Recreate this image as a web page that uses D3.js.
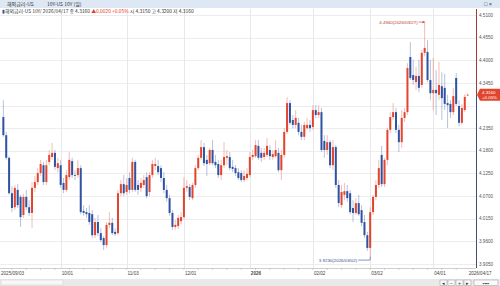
<!DOCTYPE html>
<html>
<head>
<meta charset="utf-8">
<script src="https://cdn.jsdelivr.net/npm/d3@7"></script>
<style>
  body { margin: 0; background: #fff; }
  svg { display: block; }
  text { font-family: "Liberation Sans", "Noto Sans CJK KR", sans-serif; }
</style>
</head>
<body>
<svg id="chart"></svg>
<script>
/* DATA (US 10Y daily candles, 2025/09/03 - 2026/04/17) */
const firstDay = "2025-09-03", lastDay = "2026-04-17";

const open = [
  4.262, 4.218, 4.163, 4.077, 4.043, 4.085, 4.068, 4.024, 4.068, 4.043,
  4.029, 4.090, 4.104, 4.126, 4.145, 4.104, 4.153, 4.165, 4.175, 4.138,
  4.145, 4.102, 4.085, 4.116, 4.155, 4.121, 4.121, 4.138, 4.034, 4.031,
  4.029, 4.026, 3.975, 4.007, 3.980, 3.968, 3.951, 4.000, 4.005, 3.983,
  3.980, 4.077, 4.099, 4.080, 4.114, 4.085, 4.153, 4.097, 4.090, 4.097,
  4.116, 4.080, 4.121, 4.143, 4.143, 4.138, 4.114, 4.085, 4.065, 4.029,
  3.995, 3.997, 4.009, 4.019, 4.090, 4.092, 4.065, 4.097, 4.138, 4.163,
  4.189, 4.158, 4.150, 4.182, 4.153, 4.148, 4.121, 4.145, 4.163, 4.165,
  4.141, 4.138, 4.128, 4.126, 4.109, 4.114, 4.121, 4.165, 4.167, 4.192,
  4.175, 4.165, 4.170, 4.182, 4.165, 4.167, 4.175, 4.133, 4.170, 4.226,
  4.296, 4.255, 4.243, 4.248, 4.226, 4.214, 4.235, 4.243, 4.238, 4.279,
  4.267, 4.274, 4.204, 4.182, 4.201, 4.145, 4.189, 4.097, 4.048, 4.073,
  4.082, 4.077, 4.041, 4.029, 4.053, 4.036, 4.007, 3.975, 3.944, 4.031,
  4.068, 4.097, 4.170, 4.099, 4.158, 4.231, 4.262, 4.274, 4.231, 4.201,
  4.260, 4.274, 4.408, 4.364, 4.347, 4.362, 4.340, 4.418, 4.420, 4.352,
  4.320, 4.328, 4.316, 4.337, 4.333, 4.296, 4.294, 4.274, 4.357, 4.289,
  4.248, 4.279, 4.315
];
const high = [
  4.303, 4.226, 4.167, 4.094, 4.097, 4.099, 4.073, 4.075, 4.085, 4.060,
  4.104, 4.119, 4.138, 4.158, 4.153, 4.158, 4.182, 4.199, 4.182, 4.163,
  4.158, 4.114, 4.133, 4.177, 4.163, 4.133, 4.158, 4.145, 4.048, 4.041,
  4.048, 4.036, 4.017, 4.024, 3.992, 3.973, 4.007, 4.031, 4.017, 3.992,
  4.085, 4.109, 4.121, 4.114, 4.128, 4.163, 4.158, 4.109, 4.114, 4.121,
  4.128, 4.128, 4.158, 4.163, 4.158, 4.145, 4.128, 4.097, 4.073, 4.036,
  4.012, 4.024, 4.031, 4.116, 4.109, 4.099, 4.102, 4.145, 4.170, 4.206,
  4.199, 4.170, 4.187, 4.206, 4.170, 4.158, 4.158, 4.201, 4.182, 4.177,
  4.158, 4.145, 4.138, 4.133, 4.133, 4.138, 4.177, 4.182, 4.206, 4.206,
  4.187, 4.187, 4.211, 4.194, 4.182, 4.206, 4.187, 4.182, 4.235, 4.311,
  4.303, 4.267, 4.279, 4.260, 4.243, 4.250, 4.260, 4.255, 4.291, 4.291,
  4.291, 4.284, 4.218, 4.218, 4.206, 4.206, 4.194, 4.109, 4.097, 4.102,
  4.097, 4.085, 4.060, 4.065, 4.073, 4.048, 4.024, 3.983, 4.043, 4.073,
  4.109, 4.158, 4.192, 4.163, 4.235, 4.274, 4.296, 4.284, 4.243, 4.279,
  4.284, 4.393, 4.444, 4.401, 4.384, 4.401, 4.425, 4.494, 4.449, 4.401,
  4.406, 4.376, 4.396, 4.371, 4.367, 4.316, 4.303, 4.333, 4.369, 4.303,
  4.294, 4.318, 4.320
];
const low = [
  4.214, 4.158, 4.073, 4.031, 4.036, 4.041, 3.995, 4.017, 4.036, 4.022,
  3.992, 4.080, 4.097, 4.119, 4.097, 4.097, 4.145, 4.158, 4.133, 4.128,
  4.090, 4.077, 4.080, 4.109, 4.114, 4.109, 4.114, 4.026, 4.022, 4.017,
  4.000, 3.968, 3.968, 3.973, 3.958, 3.939, 3.944, 3.992, 3.975, 3.973,
  3.975, 4.070, 4.070, 4.073, 4.077, 4.080, 4.080, 4.073, 4.080, 4.090,
  4.065, 4.070, 4.114, 4.133, 4.121, 4.104, 4.077, 4.056, 4.022, 3.988,
  3.988, 3.990, 4.002, 4.014, 4.080, 4.060, 4.060, 4.090, 4.133, 4.158,
  4.143, 4.119, 4.145, 4.145, 4.138, 4.114, 4.109, 4.138, 4.145, 4.133,
  4.128, 4.119, 4.109, 4.104, 4.104, 4.109, 4.116, 4.158, 4.163, 4.158,
  4.153, 4.158, 4.165, 4.158, 4.158, 4.163, 4.128, 4.109, 4.163, 4.221,
  4.243, 4.235, 4.235, 4.218, 4.206, 4.206, 4.231, 4.226, 4.231, 4.260,
  4.260, 4.177, 4.163, 4.170, 4.138, 4.133, 4.090, 4.043, 4.041, 4.060,
  4.056, 4.026, 4.007, 4.024, 4.022, 3.997, 3.968, 3.937, 3.923, 4.024,
  4.060, 4.090, 4.092, 4.092, 4.145, 4.223, 4.255, 4.223, 4.177, 4.187,
  4.250, 4.267, 4.352, 4.340, 4.328, 4.323, 4.333, 4.410, 4.347, 4.303,
  4.279, 4.267, 4.303, 4.255, 4.279, 4.235, 4.260, 4.267, 4.289, 4.240,
  4.243, 4.274, 4.315
];
const close = [
  4.218, 4.163, 4.077, 4.041, 4.090, 4.048, 4.019, 4.068, 4.043, 4.029,
  4.090, 4.104, 4.126, 4.148, 4.104, 4.145, 4.170, 4.175, 4.141, 4.150,
  4.097, 4.085, 4.121, 4.158, 4.121, 4.119, 4.138, 4.031, 4.029, 4.026,
  4.007, 3.975, 4.007, 3.980, 3.963, 3.951, 4.000, 4.005, 3.980, 3.978,
  4.077, 4.099, 4.077, 4.097, 4.085, 4.153, 4.085, 4.085, 4.102, 4.109,
  4.070, 4.121, 4.148, 4.148, 4.128, 4.114, 4.085, 4.065, 4.029, 3.995,
  4.000, 4.017, 4.019, 4.090, 4.094, 4.068, 4.097, 4.138, 4.163, 4.189,
  4.150, 4.148, 4.182, 4.150, 4.145, 4.121, 4.145, 4.165, 4.167, 4.138,
  4.136, 4.126, 4.114, 4.109, 4.119, 4.124, 4.165, 4.170, 4.194, 4.163,
  4.163, 4.175, 4.192, 4.167, 4.172, 4.182, 4.133, 4.170, 4.226, 4.296,
  4.248, 4.243, 4.260, 4.226, 4.214, 4.243, 4.243, 4.235, 4.279, 4.267,
  4.274, 4.182, 4.182, 4.201, 4.145, 4.189, 4.097, 4.053, 4.080, 4.082,
  4.065, 4.031, 4.029, 4.053, 4.026, 4.005, 3.975, 3.944, 4.031, 4.068,
  4.097, 4.138, 4.099, 4.158, 4.231, 4.262, 4.274, 4.231, 4.201, 4.260,
  4.274, 4.381, 4.357, 4.352, 4.362, 4.333, 4.418, 4.430, 4.352, 4.320,
  4.328, 4.320, 4.340, 4.308, 4.294, 4.291, 4.274, 4.313, 4.294, 4.248,
  4.284, 4.311, 4.316
];

const yTicks = [3.905, 3.96, 4.015, 4.07, 4.125, 4.18, 4.235, 4.29, 4.345, 4.4, 4.455, 4.51];
const xTickDates = ["2025-09-03", "2025-10-01", "2025-11-03", "2025-12-01", "2026-01-01",
                    "2026-02-02", "2026-03-02", "2026-04-01", "2026-04-17"];
const xTickLabels = ["2025/09/03", "10/01", "11/03", "12/01", "2026", "02/02", "03/02", "04/01", "2026/04/17"];

const titleText = "해외금리-US";
const subTitle = "10Y-US 10Y (일)";
const lastInfo = { date: "2026/04/17", close: "4.3160", change: "▲0.0020", pct: "+0.05%",
                   open: "4.3150", high: "4.3200", low: "4.3160" };

/* CONSTANTS */
const width = 500, height = 286;
const plot = { left: 0, right: 476, top: 9, bottom: 268 };
const upColor = "#e2452d", downColor = "#2f53a3";

// trading days (weekdays)
const fmt = d3.timeFormat("%Y-%m-%d");
const dates = d3.timeDay.range(new Date(firstDay + "T00:00"), new Date(lastDay + "T24:00"))
  .filter(d => d.getDay() !== 0 && d.getDay() !== 6)
  .map(fmt);

const candles = dates.map((d, i) => ({
  date: d, o: open[i], h: high[i], l: low[i], c: close[i]
}));

const svg = d3.select("#chart")
  .attr("width", width)
  .attr("height", height);

const x = d3.scaleBand()
  .domain(dates)
  .range([1.5, 469.5])
  .padding(0.3);

const y = d3.scaleLinear()
  .domain([3.905, 4.51])
  .range([264, 15]);

const cx = d => x(d) + x.bandwidth() / 2;

// horizontal grid
svg.append("g")
  .selectAll("line")
  .data(yTicks)
  .join("line")
    .attr("x1", plot.left).attr("x2", plot.right)
    .attr("y1", d => Math.round(y(d)) + 0.5).attr("y2", d => Math.round(y(d)) + 0.5)
    .attr("stroke", "#ededed");

// vertical grid at month starts
svg.append("g")
  .selectAll("line")
  .data(xTickDates.slice(1, -1))
  .join("line")
    .attr("x1", d => Math.round(cx(d)) + 0.5).attr("x2", d => Math.round(cx(d)) + 0.5)
    .attr("y1", plot.top).attr("y2", plot.bottom)
    .attr("stroke", "#e8e8e8");

// candles
const g = svg.append("g");
g.selectAll("line")
  .data(candles)
  .join("line")
    .attr("x1", d => cx(d.date)).attr("x2", d => cx(d.date))
    .attr("y1", d => y(d.h)).attr("y2", d => y(d.l))
    .attr("stroke", d => d.c >= d.o ? upColor : downColor)
    .attr("stroke-opacity", 0.45)
    .attr("stroke-width", 0.8);

g.selectAll("rect")
  .data(candles)
  .join("rect")
    .attr("x", d => x(d.date))
    .attr("width", x.bandwidth())
    .attr("y", d => y(Math.max(d.o, d.c)))
    .attr("height", d => Math.max(0.8, Math.abs(y(d.o) - y(d.c))))
    .attr("fill", d => d.c >= d.o ? upColor : downColor);

// high / low annotations
const hi = d3.maxIndex(candles, d => d.h);
const lo = d3.minIndex(candles, d => d.l);
const slash = s => s.replace(/-/g, "/");

const hx = cx(candles[hi].date), hy = y(candles[hi].h);
svg.append("line")
  .attr("x1", hx - 6).attr("x2", hx).attr("y1", hy + 0.5).attr("y2", hy + 0.5)
  .attr("stroke", "#c0392b").attr("stroke-width", 0.6);
svg.append("path")
  .attr("d", `M${hx},${hy + 0.5}l-2,-1.2v2.4z`)
  .attr("fill", "#c0392b");
svg.append("text")
  .attr("x", hx - 7).attr("y", hy + 2)
  .attr("text-anchor", "end")
  .attr("font-size", 4.4)
  .attr("fill", "#c0392b")
  .text(`${candles[hi].h.toFixed(4)}(${slash(candles[hi].date)})`);

const lx = cx(candles[lo].date), ly = y(candles[lo].l);
svg.append("path")
  .attr("d", `M${lx - 12},${ly + 3.5}H${lx}V${ly}`)
  .attr("fill", "none")
  .attr("stroke", "#3a4f8f").attr("stroke-width", 0.6);
svg.append("text")
  .attr("x", lx - 13).attr("y", ly + 5)
  .attr("text-anchor", "end")
  .attr("font-size", 4.4)
  .attr("fill", "#3a4f8f")
  .text(`${candles[lo].l.toFixed(4)}(${slash(candles[lo].date)})`);

// right axis
const last = candles[candles.length - 1];
const py = y(last.c);
svg.append("line")
  .attr("x1", plot.right + 0.5).attr("x2", plot.right + 0.5)
  .attr("y1", plot.top).attr("y2", py)
  .attr("stroke", "#a33a3a");
svg.append("line")
  .attr("x1", plot.right + 0.5).attr("x2", plot.right + 0.5)
  .attr("y1", py).attr("y2", plot.bottom)
  .attr("stroke", "#3d4f7c");

svg.append("g")
  .selectAll("text")
  .data(yTicks.filter(d => Math.abs(y(d) - py) > 11))
  .join("text")
    .attr("x", plot.right + 3)
    .attr("y", d => y(d) + 1.6)
    .attr("font-size", 4.6)
    .attr("fill", "#555")
    .text(d => d.toFixed(4));

// current price tag
svg.append("path")
  .attr("d", `M${plot.right + 1},${py} l3,-6 h${width - plot.right - 4} v12 h-${width - plot.right - 4} z`)
  .attr("fill", "#e2452d");
svg.append("text")
  .attr("x", plot.right + 6).attr("y", py - 0.8)
  .attr("font-size", 4.4).attr("fill", "#fff")
  .text(lastInfo.close);
svg.append("text")
  .attr("x", plot.right + 6).attr("y", py + 4.2)
  .attr("font-size", 4.4).attr("fill", "#fff")
  .text(lastInfo.pct);

// x axis
svg.append("line")
  .attr("x1", 0).attr("x2", plot.right)
  .attr("y1", plot.bottom + 0.5).attr("y2", plot.bottom + 0.5)
  .attr("stroke", "#cfcfcf");

const mondays = dates.filter(d => new Date(d + "T00:00").getDay() === 1);
svg.append("g")
  .selectAll("line")
  .data(mondays)
  .join("line")
    .attr("x1", d => cx(d)).attr("x2", d => cx(d))
    .attr("y1", plot.bottom).attr("y2", plot.bottom + 2)
    .attr("stroke", "#bbb").attr("stroke-width", 0.6);

svg.append("g")
  .selectAll("text")
  .data(xTickDates)
  .join("text")
    .attr("x", (d, i) => i === 0 ? 1 : cx(d) + 1)
    .attr("y", 275)
    .attr("font-size", 4.6)
    .attr("font-weight", (d, i) => xTickLabels[i] === "2026" ? "bold" : "normal")
    .attr("fill", "#444")
    .text((d, i) => xTickLabels[i]);

// scroll bar
svg.append("rect")
  .attr("x", 0).attr("y", 279).attr("width", width).attr("height", 7)
  .attr("fill", "#e9e9e9");
svg.append("rect")
  .attr("x", 1).attr("y", 280).attr("width", 62).attr("height", 5)
  .attr("fill", "#f7f7f7").attr("stroke", "#cfcfcf").attr("stroke-width", 0.5);
["◂", "−", "+", "▸"].forEach((s, i) => {
  svg.append("rect")
    .attr("x", 440 + i * 8).attr("y", 280).attr("width", 7).attr("height", 5.5)
    .attr("fill", "#fafafa").attr("stroke", "#999").attr("stroke-width", 0.5);
  svg.append("text")
    .attr("x", 443.5 + i * 8).attr("y", 284.5)
    .attr("text-anchor", "middle").attr("font-size", 5).attr("fill", "#333")
    .text(s);
});
svg.append("rect")
  .attr("x", 474).attr("y", 280).attr("width", 24).attr("height", 5.5)
  .attr("fill", "#fafafa").attr("stroke", "#999").attr("stroke-width", 0.5);
svg.append("text")
  .attr("x", 486).attr("y", 284.5)
  .attr("text-anchor", "middle").attr("font-size", 4.5).attr("font-weight", "bold").attr("fill", "#333")
  .text("▪▪▪▪");

// title bar
svg.append("rect")
  .attr("x", 0).attr("y", 0).attr("width", width).attr("height", 8)
  .attr("fill", "#dde8f4");
svg.append("text")
  .attr("x", 7).attr("y", 6)
  .attr("font-size", 5).attr("fill", "#333")
  .style("font-family", "'Noto Sans CJK KR', sans-serif")
  .text(titleText);
svg.append("text")
  .attr("x", 47).attr("y", 6)
  .attr("font-size", 5).attr("fill", "#333")
  .style("font-family", "'Noto Sans CJK KR', sans-serif")
  .text(subTitle);
svg.append("text")
  .attr("x", 484).attr("y", 6)
  .attr("font-size", 5.5).attr("fill", "#335")
  .text("□ ×");

// info line
const info = svg.append("text")
  .attr("x", 2).attr("y", 12.5)
  .attr("font-size", 4.9)
  .attr("fill", "#333")
  .style("font-family", "'Noto Sans CJK KR', sans-serif");
info.append("tspan").attr("fill", "#2f53a3").text("▮");
info.append("tspan").text(`${titleText} 10Y/ ${lastInfo.date} 종 ${lastInfo.close} `);
info.append("tspan").attr("fill", "#e2452d").text(`${lastInfo.change} ${lastInfo.pct}`);
info.append("tspan").text(` 시 ${lastInfo.open} 고 ${lastInfo.high} 저 ${lastInfo.low}`);
</script>
</body>
</html>
